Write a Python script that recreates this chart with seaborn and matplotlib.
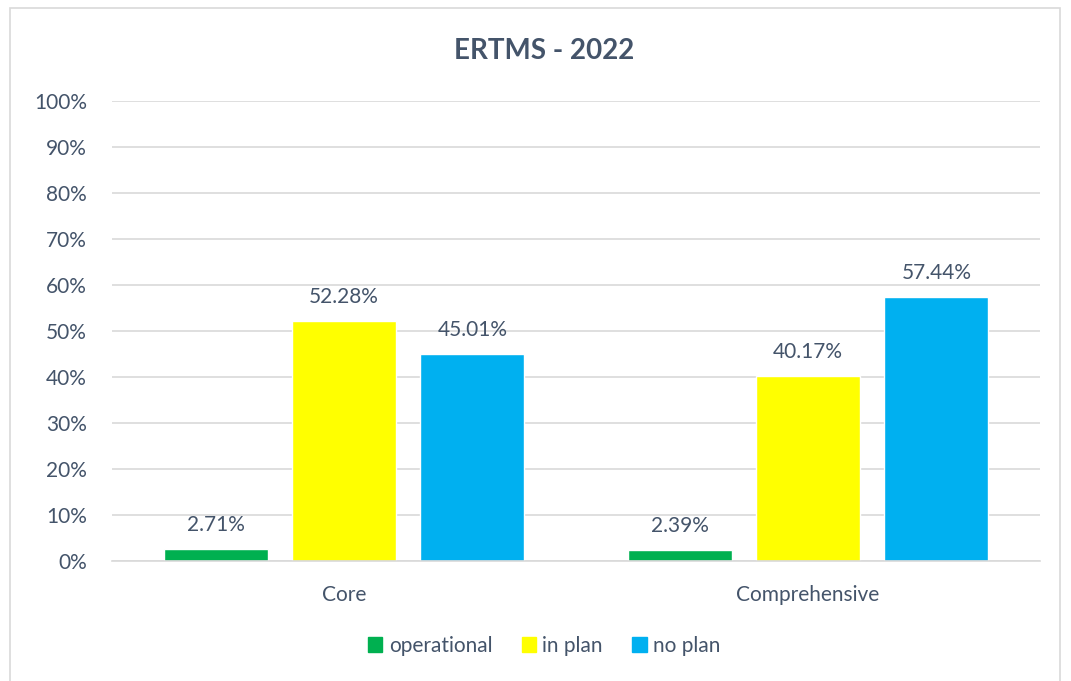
import matplotlib
matplotlib.use("Agg")
import matplotlib.pyplot as plt
import matplotlib.patches as mpatches
from matplotlib.ticker import PercentFormatter
import pandas as pd
import seaborn as sns

# values
categories = ["Core", "Comprehensive"]
series = ["operational", "in plan", "no plan"]
operational = [2.71, 2.39]
in_plan = [52.28, 40.17]
no_plan = [45.01, 57.44]
colors = ["#00B050", "#FFFF00", "#00B0F0"]

df = pd.DataFrame({
    "category": categories * 3,
    "status": [s for s in series for _ in categories],
    "value": operational + in_plan + no_plan,
})

sns.set_theme(style="white")
plt.rcParams["font.family"] = ["Lato", "DejaVu Sans"]
txt = "#44546A"
grid = "#D9D9D9"
fs = 15

fig = plt.figure(figsize=(10.71, 6.81), dpi=100)
ax = fig.add_axes([0.1046, 0.1762, 0.8665, 0.6755])

sns.barplot(data=df, x="category", y="value", hue="status", order=categories,
            hue_order=series, palette=colors, width=0.83, gap=0.19,
            saturation=1, legend=False, ax=ax)

ax.set_ylim(0, 100)
ax.set_yticks(range(0, 101, 10))
ax.yaxis.set_major_formatter(PercentFormatter(decimals=0))
ax.grid(axis="y", color=grid, linewidth=1.2)
ax.set_axisbelow(True)
for s in ["top", "right", "left"]:
    ax.spines[s].set_visible(False)
ax.spines["bottom"].set_color(grid)
ax.spines["bottom"].set_linewidth(1.2)
ax.tick_params(axis="both", length=0, labelsize=fs, colors=txt)
ax.tick_params(axis="y", pad=18)
ax.tick_params(axis="x", pad=17)
ax.set_xlabel("")
ax.set_ylabel("")

for cont in ax.containers:
    ax.bar_label(cont, labels=[f"{v:.2f}%" for v in cont.datavalues],
                 padding=10, fontsize=fs, color=txt)

fig.text(0.508, 0.925, "ERTMS - 2022", ha="center", va="center",
         fontsize=20, fontweight="bold", color=txt)

handles = [mpatches.Patch(color=c, label=s) for c, s in zip(colors, series)]
fig.legend(handles=handles, loc="center", bbox_to_anchor=(0.508, 0.052), ncol=3,
           frameon=False, fontsize=fs, handlelength=0.7, handleheight=0.7,
           handletextpad=0.3, columnspacing=1.4, labelcolor=txt)

fig.patches.append(mpatches.Rectangle((10 / 1071, -0.01), 1050 / 1071, 1 - 8 / 681 + 0.01,
                                      transform=fig.transFigure, fill=False,
                                      edgecolor=grid, linewidth=1.2))

fig.savefig("out.png", dpi=100)
